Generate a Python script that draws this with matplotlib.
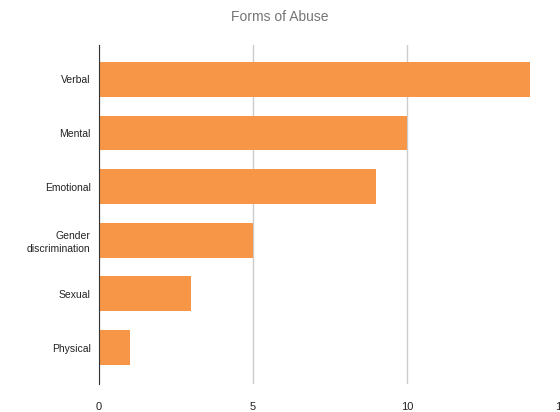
import matplotlib.pyplot as plt

# abuse forms, bottom to top
categories = ["Physical", "Sexual", "Gender\ndiscrimination", "Emotional", "Mental", "Verbal"]
counts = [1, 3, 5, 9, 10, 14]
xticks = [0, 5, 10, 15]

plt.rcParams['font.family'] = ['Liberation Sans', 'DejaVu Sans']

fig = plt.figure(figsize=(5.6, 4.12), dpi=100)
ax = fig.add_axes([0.1768, 0.068, 0.825, 0.8228])

ypos = list(range(len(categories)))
ax.barh(ypos, counts, height=0.65, color='#F79646', zorder=3)

ax.set_xlim(0, 15)
ax.set_ylim(-0.68, 5.64)
ax.set_xticks(xticks)
ax.set_xticklabels([str(t) for t in xticks], fontsize=8, color='#222222')
ax.set_yticks(ypos)
ax.set_yticklabels(categories, fontsize=7.5, linespacing=1.4, color='#222222')

ax.grid(axis='x', color='#cccccc', linewidth=1, zorder=0)
for side in ['top', 'right', 'bottom']:
    ax.spines[side].set_visible(False)
ax.spines['left'].set_color('#333333')
ax.spines['left'].set_zorder(4)
ax.tick_params(axis='x', length=0, pad=13)
ax.tick_params(axis='y', length=0, pad=6)

fig.suptitle("Forms of Abuse", x=0.5, y=0.975, fontsize=10, color='#757575')

fig.savefig("out.png", dpi=100)
